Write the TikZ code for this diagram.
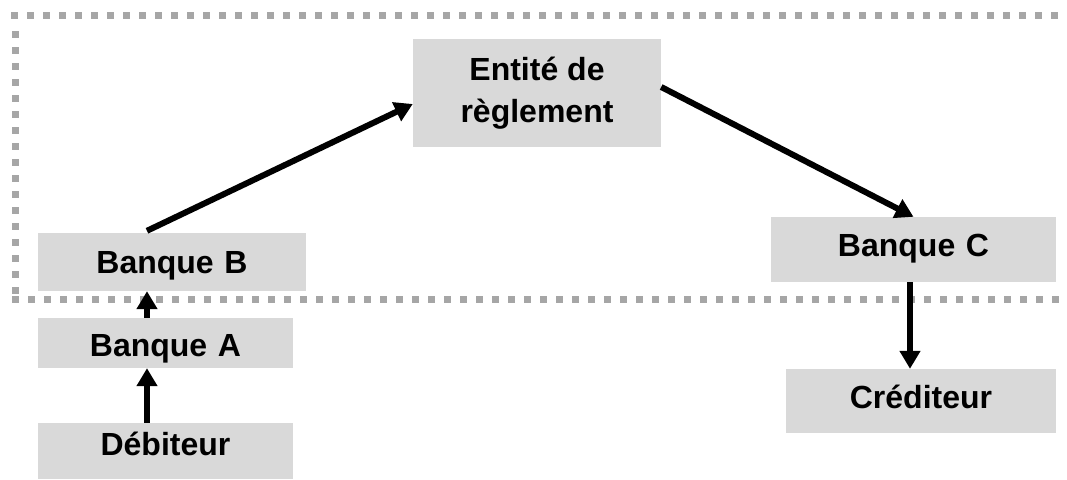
\documentclass[tikz,border=0pt]{standalone}
\usepackage{fontspec}
\setmainfont{Liberation Sans}
\usetikzlibrary{arrows.meta}
\definecolor{boxgray}{HTML}{D9D9D9}
\definecolor{dotgray}{HTML}{A6A6A6}
\begin{document}
\begin{tikzpicture}[x=1pt,y=-1pt,
  box/.style={fill=boxgray, inner sep=0pt, align=center,
    font=\fontsize{32}{42}\selectfont\bfseries},
  arr/.style={line width=6pt, -{Triangle[length=18pt,width=20pt]}},
  dots/.style={dotgray, line width=7pt, dash pattern=on 7pt off 9pt}]
\useasboundingbox (0,0) rectangle (1067,479);
% dotted frame
\draw[dots] (11,15) -- (1067,15);
\draw[dots] (15,31) -- (15,295);
\draw[dots] (12,299) -- (1067,299);
% nodes
\node[box, minimum width=248pt, minimum height=108pt] (E) at (537,93) {Entité de\\règlement};
\node[box, text width=268pt, text height=40.3pt, text depth=17.7pt] (BB) at (172,262) {Banque B};
\node[box, text width=255pt, text height=38.7pt, text depth=11.3pt] (BA) at (165.5,343) {Banque A};
\node[box, text width=255pt, text height=32pt, text depth=24pt] (D) at (165.5,451) {Débiteur};
\node[box, text width=285pt, text height=39.7pt, text depth=25.3pt] (BC) at (913.5,249.5) {Banque C};
\node[box, text width=270pt, text height=39.3pt, text depth=24.7pt] (Cr) at (921,401) {Créditeur};
% arrows
\draw[arr] ([xshift=-18.5pt]D.north) -- ([xshift=-18.5pt]BA.south);
\draw[arr] ([xshift=-18.5pt]BA.north) -- ([xshift=-25pt]BB.south);
\draw[arr] ([xshift=-25pt,yshift=2pt]BB.north) -- ([yshift=-11pt]E.west);
\draw[arr] ([yshift=6pt]E.east) -- (BC.north);
\draw[arr] ([xshift=-3.5pt]BC.south) -- ([xshift=-11pt]Cr.north);
\end{tikzpicture}
\end{document}
